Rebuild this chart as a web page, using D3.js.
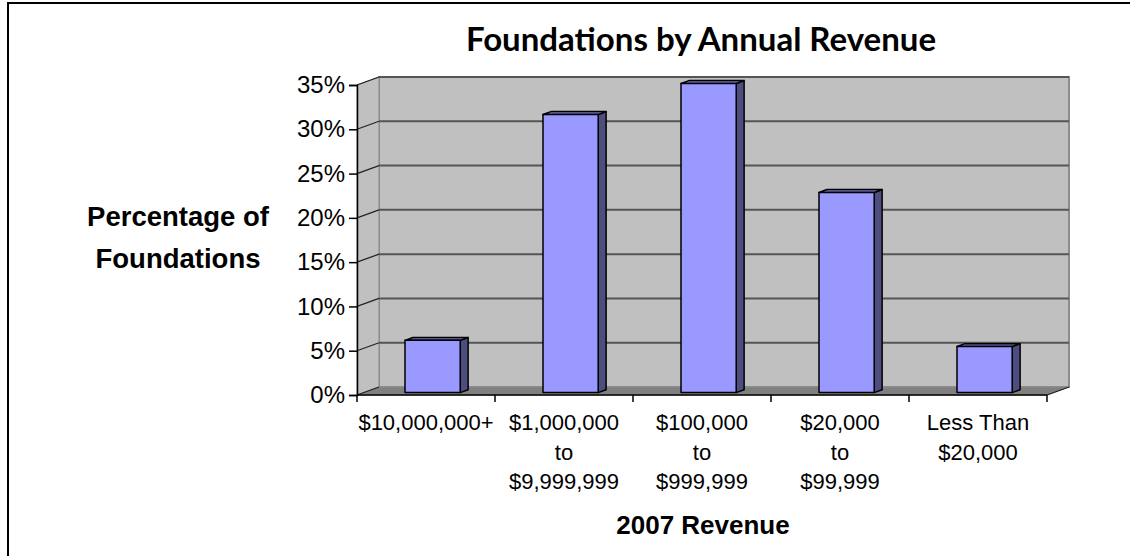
<!DOCTYPE html>
<html>
<head>
<meta charset="utf-8">
<script src="https://cdn.jsdelivr.net/npm/d3@7"></script>
<style>
  html, body { margin: 0; padding: 0; background: #fff; }
  svg { display: block; }
</style>
</head>
<body>
<svg id="chart" width="1130" height="556"></svg>
<script>
// Share of foundations in each 2007 revenue band
const categories = ["$10,000,000+", "$1,000,000 to $9,999,999", "$100,000 to $999,999", "$20,000 to $99,999", "Less Than $20,000"];
const categoryLines = [["$10,000,000+"], ["$1,000,000", "to", "$9,999,999"], ["$100,000", "to", "$999,999"], ["$20,000", "to", "$99,999"], ["Less Than", "$20,000"]];
const shares = [0.059, 0.314, 0.349, 0.226, 0.052];
const yTicks = [0, 0.05, 0.10, 0.15, 0.20, 0.25, 0.30, 0.35];

const svg = d3.select("#chart");

// oblique depth of the 3-D box
const DX = 22, DY = -8;

const x = d3.scaleBand().domain(categories).range([357, 1047]).paddingInner(0).paddingOuter(0);
const y = d3.scaleLinear().domain([0, 0.35]).range([395, 85]);

const x0 = x.range()[0], x1 = x.range()[1];
const yTop = y(0.35), yBase = y(0);

// outer chart frame
svg.append("rect")
  .attr("x", 8).attr("y", 3).attr("width", 1140).attr("height", 570)
  .attr("fill", "none").attr("stroke", "#000").attr("stroke-width", 2);

const pts = a => a.map(p => p.join(",")).join(" ");

// walls and floor
svg.append("polygon")
  .attr("points", pts([[x0 + DX, yTop + DY], [x1 + DX, yTop + DY], [x1 + DX, yBase + DY], [x0 + DX, yBase + DY]]))
  .attr("fill", "#c0c0c0").attr("stroke", "#8c8c8c").attr("stroke-width", 2);
svg.append("polygon")
  .attr("points", pts([[x0, yTop], [x0 + DX, yTop + DY], [x0 + DX, yBase + DY], [x0, yBase]]))
  .attr("fill", "#c0c0c0").attr("stroke", "#8c8c8c").attr("stroke-width", 1);
svg.append("polygon")
  .attr("points", pts([[x0, yBase], [x1, yBase], [x1 + DX, yBase + DY], [x0 + DX, yBase + DY]]))
  .attr("fill", "#808080").attr("stroke", "#8c8c8c").attr("stroke-width", 1);

// gridlines on back wall and side wall
yTicks.filter(t => t > 0).forEach(t => {
  svg.append("line")
    .attr("x1", x0 + DX).attr("x2", x1 + DX)
    .attr("y1", y(t) + DY).attr("y2", y(t) + DY)
    .attr("stroke", "#555").attr("stroke-width", 2);
});
yTicks.forEach(t => {
  svg.append("line")
    .attr("x1", x0).attr("y1", y(t))
    .attr("x2", x0 + DX).attr("y2", y(t) + DY)
    .attr("stroke", "#222").attr("stroke-width", 1.2);
});
// floor right edge
svg.append("line")
  .attr("x1", x1).attr("y1", yBase).attr("x2", x1 + DX).attr("y2", yBase + DY)
  .attr("stroke", "#222").attr("stroke-width", 1.2);

// bars: front, top and side faces, set in the middle of the depth
const dStart = 0.3, dDepth = 0.36, barFrac = 0.4;
const bars = svg.append("g");
categories.forEach((c, i) => {
  const v = shares[i];
  const bw = x.bandwidth() * barFrac;
  const fx = x(c) + (x.bandwidth() - bw) / 2 + DX * dStart;
  const fyTop = y(v) + DY * dStart;
  const fyBase = y(0) + DY * dStart;
  const ddx = DX * dDepth, ddy = DY * dDepth;
  const g = bars.append("g").attr("stroke", "#000").attr("stroke-width", 1.5).attr("stroke-linejoin", "round");
  g.append("polygon")
    .attr("points", pts([[fx + bw, fyTop], [fx + bw + ddx, fyTop + ddy], [fx + bw + ddx, fyBase + ddy], [fx + bw, fyBase]]))
    .attr("fill", "#4d4d80");
  g.append("polygon")
    .attr("points", pts([[fx, fyTop], [fx + ddx, fyTop + ddy], [fx + bw + ddx, fyTop + ddy], [fx + bw, fyTop]]))
    .attr("fill", "#7373bf");
  g.append("rect")
    .attr("x", fx).attr("y", fyTop).attr("width", bw).attr("height", fyBase - fyTop)
    .attr("fill", "#9999ff");
});

// value axis
const yAxis = svg.append("g")
  .attr("transform", `translate(${x0},0)`)
  .call(d3.axisLeft(y).tickValues(yTicks).tickFormat(d3.format(".0%")).tickSize(8).tickPadding(4));
yAxis.select(".domain").attr("stroke", "#000").attr("stroke-width", 1.5);
yAxis.selectAll(".tick line").attr("stroke", "#000").attr("stroke-width", 1.5);
yAxis.selectAll(".tick text")
  .attr("font-family", "'Liberation Sans', Arial, sans-serif").attr("font-size", 24).attr("fill", "#000");

// category axis
const xAxis = svg.append("g")
  .attr("transform", `translate(0,${yBase})`);
xAxis.append("line")
  .attr("x1", x0).attr("x2", x1).attr("y1", 0).attr("y2", 0)
  .attr("stroke", "#000").attr("stroke-width", 1.5);
d3.range(categories.length + 1).forEach(i => {
  const tx = x0 + i * x.step();
  xAxis.append("line")
    .attr("x1", tx).attr("x2", tx).attr("y1", 0).attr("y2", 7)
    .attr("stroke", "#000").attr("stroke-width", 1.5);
});
categories.forEach((c, i) => {
  const t = xAxis.append("text")
    .attr("x", x(c) + x.bandwidth() / 2)
    .attr("y", 35)
    .attr("text-anchor", "middle")
    .attr("font-family", "'Liberation Sans', Arial, sans-serif")
    .attr("font-size", 22).attr("fill", "#000");
  categoryLines[i].forEach((line, k) => {
    t.append("tspan").attr("x", x(c) + x.bandwidth() / 2).attr("dy", k === 0 ? 0 : 29.5).text(line);
  });
});

// titles
svg.append("text")
  .attr("x", 701).attr("y", 51)
  .attr("text-anchor", "middle")
  .attr("font-family", "Lato, 'Open Sans', sans-serif").attr("font-weight", 700)
  .attr("font-size", 33).attr("fill", "#000")
  .text("Foundations by Annual Revenue");

svg.append("text")
  .attr("x", 703).attr("y", 534)
  .attr("text-anchor", "middle")
  .attr("font-family", "'Liberation Sans', Arial, sans-serif").attr("font-weight", 700)
  .attr("font-size", 26).attr("fill", "#000")
  .text("2007 Revenue");

const yTitle = svg.append("text")
  .attr("text-anchor", "middle")
  .attr("font-family", "'Liberation Sans', Arial, sans-serif").attr("font-weight", 700)
  .attr("font-size", 27.5).attr("fill", "#000");
yTitle.append("tspan").attr("x", 178).attr("y", 226).text("Percentage of");
yTitle.append("tspan").attr("x", 178).attr("y", 268).text("Foundations");
</script>
</body>
</html>
